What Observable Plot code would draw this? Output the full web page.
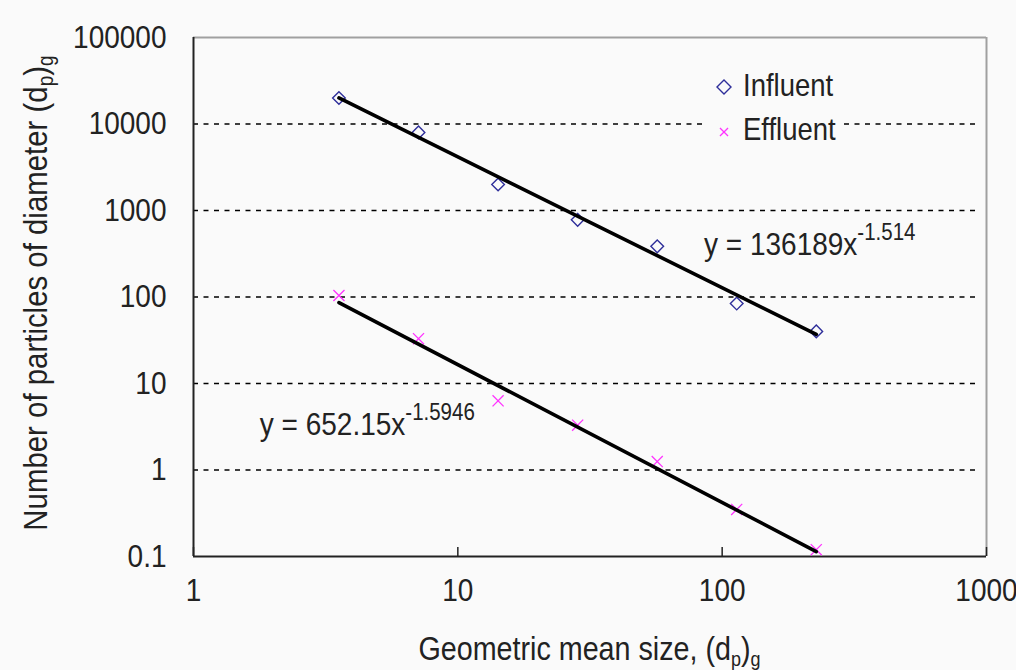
<!DOCTYPE html>
<html>
<head>
<meta charset="utf-8">
<script src="https://cdn.jsdelivr.net/npm/d3@7"></script>
<script src="https://cdn.jsdelivr.net/npm/@observablehq/plot@0.6"></script>
<style>
  html, body { margin: 0; padding: 0; background: #fafafa; }
</style>
</head>
<body>
<div id="chart"></div>
<script>
// ---- data ----
const sizes = [3.55, 7.1, 14.2, 28.4, 56.8, 113.5, 227];
const influent = [20000, 8000, 2000, 780, 385, 84, 40];
const effluent = [104, 33, 6.3, 3.3, 1.25, 0.35, 0.12];
const fitSizes = [3.55, 227];
const influentFit = [20000, 37];
const effluentFit = [86, 0.114];
const xTicks = [1, 10, 100, 1000];
const xTickLabels = ["1", "10", "100", "1000"];
const yTicks = [0.1, 1, 10, 100, 1000, 10000, 100000];
const yTickLabels = ["0.1", "1", "10", "100", "1000", "10000", "100000"];
const gridValues = [1, 10, 100, 1000, 10000];
const seriesNames = ["Influent", "Effluent"];
const equations = [
  {x: 85.8, y: 302, base: "y = 136189x", sup: "-1.514"},
  {x: 1.79, y: 2.5, base: "y = 652.15x", sup: "-1.5946"}
];

const influentData = sizes.map((s, i) => ({x: s, y: influent[i]}));
const effluentData = sizes.map((s, i) => ({x: s, y: effluent[i]}));
const influentFitData = fitSizes.map((s, i) => ({x: s, y: influentFit[i]}));
const effluentFitData = fitSizes.map((s, i) => ({x: s, y: effluentFit[i]}));

const font = "'Liberation Sans', Arial, sans-serif";
const W = 1016, H = 670, mL = 193, mR = 30, mT = 37, mB = 114;
const blue = "#2e2e9a", magenta = "#ff33ff", ink = "#222";
const stretch = " scale(1,1.13)";

const plot = Plot.plot({
  width: W, height: H,
  marginLeft: mL, marginRight: mR, marginTop: mT, marginBottom: mB,
  style: {background: "#fafafa", fontFamily: font, fontSize: "28px", color: ink, overflow: "visible"},
  x: {type: "log", domain: [1, 1000], axis: null},
  y: {type: "log", domain: [0.1, 100000], axis: null},
  marks: [
    Plot.ruleY(gridValues, {stroke: "#000", strokeWidth: 1.5, strokeDasharray: "5,5.5", insetRight: 6}),
    Plot.ruleX([1000], {stroke: "#a0a0a0", strokeWidth: 2}),
    Plot.ruleY([100000], {stroke: "#a0a0a0", strokeWidth: 2}),
    Plot.text(yTicks, {y: d => d, text: d => yTickLabels[yTicks.indexOf(d)], frameAnchor: "left", dx: -27, textAnchor: "end", fill: ink, fontSize: 28}),
    Plot.text(xTicks, {x: d => d, text: d => xTickLabels[xTicks.indexOf(d)], frameAnchor: "bottom", dy: 44, fill: ink, fontSize: 28}),
    Plot.axisX({ticks: xTicks, tickFormat: () => "", tickSize: 9, dy: -9, stroke: ink, strokeWidth: 1.5, label: null}),
    Plot.ruleX([1], {stroke: ink, strokeWidth: 2}),
    Plot.ruleY([0.1], {stroke: ink, strokeWidth: 2}),
    Plot.dot(influentData, {x: "x", y: "y", symbol: "diamond2", r: 5.7, stroke: blue, strokeWidth: 1.4, fill: "none"}),
    Plot.dot(effluentData, {x: "x", y: "y", symbol: "times", r: 5.1, stroke: magenta, strokeWidth: 1.3}),
    Plot.line(influentFitData, {x: "x", y: "y", stroke: "#000", strokeWidth: 3.6}),
    Plot.line(effluentFitData, {x: "x", y: "y", stroke: "#000", strokeWidth: 3.6})
  ]
});

document.getElementById("chart").appendChild(plot);

const svg = d3.select(plot);
// taller glyphs like the reference
svg.selectAll("text").each(function () {
  const t = this.getAttribute("transform");
  if (t) this.setAttribute("transform", t + stretch);
});

const sx = plot.scale("x"), sy = plot.scale("y");

// equations with superscript exponents
for (const e of equations) {
  const t = svg.append("text")
    .attr("transform", `translate(${sx.apply(e.x)},${sy.apply(e.y)})` + stretch).attr("text-anchor", "start")
    .attr("fill", ink).attr("font-family", font).attr("font-size", 28);
  t.append("tspan").text(e.base);
  t.append("tspan").attr("dy", -13).attr("font-size", 20.5).text(e.sup);
}

// legend inside the frame (top right)
const frameRight = W - mR;
const lg = svg.append("g").attr("transform", `translate(${frameRight - 283},${mT + 29})`);
lg.append("rect").attr("width", 140).attr("height", 85).attr("fill", "#fafafa");
lg.append("path").attr("transform", "translate(21,21)")
  .attr("d", d3.symbol(d3.symbolDiamond2, 125)()).attr("fill", "none").attr("stroke", blue).attr("stroke-width", 1.4);
lg.append("path").attr("transform", "translate(21,66)")
  .attr("d", d3.symbol(d3.symbolTimes, 44)()).attr("fill", "none").attr("stroke", magenta).attr("stroke-width", 1.3);
lg.append("text").attr("transform", "translate(40,30)" + stretch).attr("text-anchor", "start")
  .attr("font-family", font).attr("font-size", 27.5).attr("fill", ink).text(seriesNames[0]);
lg.append("text").attr("transform", "translate(40,74)" + stretch).attr("text-anchor", "start")
  .attr("font-family", font).attr("font-size", 27.5).attr("fill", ink).text(seriesNames[1]);

// axis titles with subscripts
const xt = svg.append("text")
  .attr("transform", `translate(${(mL + W - mR) / 2},660)` + stretch).attr("text-anchor", "middle")
  .attr("font-family", font).attr("font-size", 28.7).attr("fill", ink);
xt.append("tspan").text("Geometric mean size, (d");
xt.append("tspan").attr("dy", 5).attr("font-size", 18).text("p");
xt.append("tspan").attr("dy", -5).text(")");
xt.append("tspan").attr("dy", 5).attr("font-size", 18).text("g");

const yt = svg.append("text")
  .attr("transform", `translate(47,293) rotate(-90)` + stretch).attr("text-anchor", "middle")
  .attr("font-family", font).attr("font-size", 29.4).attr("fill", ink);
yt.append("tspan").text("Number of particles of diameter (d");
yt.append("tspan").attr("dy", 5).attr("font-size", 19).text("p");
yt.append("tspan").attr("dy", -5).text(")");
yt.append("tspan").attr("dy", 5).attr("font-size", 19).text("g");
</script>
</body>
</html>
